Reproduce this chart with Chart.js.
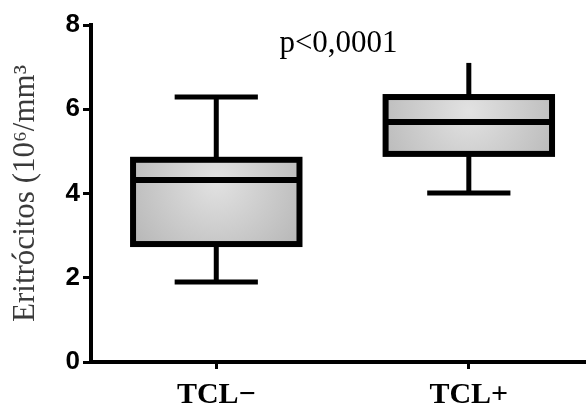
<!DOCTYPE html>
<html>
<head>
<meta charset="utf-8">
<script src="https://cdn.jsdelivr.net/npm/chart.js@4.4.1/dist/chart.umd.min.js"></script>
<style>
  html, body { margin: 0; padding: 0; background: #fff; }
  canvas { display: block; }
</style>
</head>
<body>
<canvas id="boxChart" width="586" height="407"></canvas>
<script>
// data
const categories = ["TCL\u2212", "TCL+"];
const minValues = [1.90, 4.01];
const q1Values = [2.80, 4.94];
const medianValues = [4.32, 5.70];
const q3Values = [4.80, 6.29];
const maxValues = [6.29, 7.10];
const pValueText = "p<0,0001";
const yTitle = "Eritrócitos (10⁶/mm³";

// upper cap of the second box is not visible in the original
const upperCaps = [true, false];

const boxPlot = {
    id: "boxPlot",
    afterDatasetsDraw(chart) {
        const ctx = chart.ctx;
        const y = chart.scales.y;
        const meta = chart.getDatasetMeta(0);
        const line = (x1, y1, x2, y2) => {
            ctx.beginPath();
            ctx.moveTo(x1, y1);
            ctx.lineTo(x2, y2);
            ctx.stroke();
        };
        ctx.save();
        ctx.strokeStyle = "#000";
        ctx.lineCap = "butt";
        meta.data.forEach((bar, i) => {
            const cx = bar.x;
            const half = bar.width / 2;
            const capHalf = half * 0.5;
            const yMin = y.getPixelForValue(minValues[i]);
            const yQ1 = y.getPixelForValue(q1Values[i]);
            const yMed = y.getPixelForValue(medianValues[i]);
            const yQ3 = y.getPixelForValue(q3Values[i]);
            const yMax = y.getPixelForValue(maxValues[i]);

            // whiskers
            ctx.lineWidth = 5;
            line(cx, yQ3, cx, yMax);
            line(cx, yQ1, cx, yMin);
            line(cx - capHalf, yMin, cx + capHalf, yMin);
            if (upperCaps[i]) line(cx - capHalf, yMax, cx + capHalf, yMax);

            // box + median
            ctx.lineWidth = 6;
            ctx.strokeRect(cx - half, yQ3, half * 2, yQ1 - yQ3);
            line(cx - half, yMed, cx + half, yMed);
        });

        // p value above the plot
        const area = chart.chartArea;
        ctx.fillStyle = "#000";
        ctx.font = '31px "Liberation Serif"';
        ctx.textAlign = "center";
        ctx.textBaseline = "alphabetic";
        ctx.fillText(pValueText, (area.left + area.right) / 2, area.top + 27);
        ctx.restore();
    }
};

// grey gradient fill of the boxes
function boxFill(context) {
    const chart = context.chart;
    const x = chart.scales.x;
    const y = chart.scales.y;
    if (!chart.chartArea || !x || !y || context.dataIndex === undefined) return "#cccccc";
    const i = context.dataIndex;
    const cx = x.getPixelForValue(i);
    const top = y.getPixelForValue(q3Values[i]);
    const bottom = y.getPixelForValue(q1Values[i]);
    if (!isFinite(cx) || !isFinite(top) || !isFinite(bottom)) return "#cccccc";
    const cy = top + (bottom - top) * 0.25;
    const g = chart.ctx.createRadialGradient(cx, cy, 0, cx, cy, 110);
    g.addColorStop(0, "#e2e2e2");
    g.addColorStop(1, "#b4b4b4");
    return g;
}

const ctx = document.getElementById("boxChart").getContext("2d");
new Chart(ctx, {
    type: "bar",
    data: {
        datasets: [{
            data: categories.map((c, i) => ({ x: i, y: [q1Values[i], q3Values[i]] })),
            backgroundColor: boxFill,
            borderWidth: 0,
            barPercentage: 0.659,
            categoryPercentage: 1
        }]
    },
    options: {
        responsive: false,
        animation: false,
        layout: { padding: { top: 25, right: 0, bottom: 0, left: 0 } },
        plugins: {
            legend: { display: false },
            tooltip: { enabled: false }
        },
        scales: {
            x: {
                type: "linear",
                offset: false,
                min: -0.496,
                max: 1.464,
                afterFit(scale) { scale.height = 45; },
                afterBuildTicks(scale) {
                    scale.ticks = categories.map((c, i) => ({ value: i }));
                },
                grid: {
                    offset: false,
                    drawOnChartArea: false,
                    drawTicks: true,
                    tickLength: 7,
                    tickWidth: 3,
                    tickColor: "#000"
                },
                border: { display: true, color: "#000", width: 4 },
                ticks: {
                    color: "#000",
                    padding: 8,
                    callback: (value) => categories[value],
                    font: { family: "Liberation Serif", size: 30, weight: "bold" }
                }
            },
            y: {
                min: 0,
                max: 8,
                afterFit(scale) { scale.width = 91; },
                grid: {
                    drawOnChartArea: false,
                    drawTicks: true,
                    tickLength: 8,
                    tickWidth: 3,
                    tickColor: "#000"
                },
                border: { display: true, color: "#000", width: 4 },
                ticks: {
                    stepSize: 2,
                    color: "#000",
                    padding: 3,
                    font: { family: "Liberation Sans", size: 26, weight: "bold" }
                },
                title: {
                    display: true,
                    text: yTitle,
                    color: "#3a3a3a",
                    padding: { top: 7 },
                    font: { family: "Liberation Serif", size: 31, weight: "normal" }
                }
            }
        }
    },
    plugins: [boxPlot]
});
</script>
</body>
</html>
